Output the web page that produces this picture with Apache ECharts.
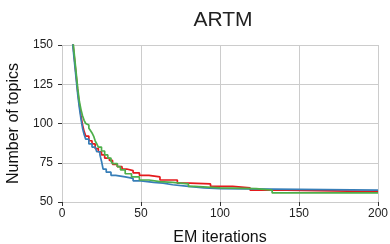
<!DOCTYPE html>
<html><head><meta charset="utf-8">
<script src="https://cdn.jsdelivr.net/npm/echarts@6/dist/echarts.min.js"></script>
<style>html,body{margin:0;padding:0;background:#fff}#c{width:390px;height:244px}</style>
</head><body><div id="c"></div>
<script>
const xTicks = [0, 50, 100, 150, 200];
const yTicks = [50, 75, 100, 125, 150];
const redIter = [0,2,4,6,7,8,9,10,11,12,13,14,15,17,19,21,23,25,27,30,32,35,38,41,45,49,55,62,68,73,81,94,108,119,142,200];
const redTopics = [300,230,192,162,150,140,130,120,112,105,99,95,92,89,87,84,82,80,78,76.5,74,72.5,71,70,68.5,67,66,64,64,62,61.5,60,59,57.6,56.6,56.6];
const blueIter = [0,2,4,6,7,8,9,10,11,12,13,14,15,17,19,21,22,24,25,26,28,31,34,40,45,50,58,64,70,80,90,100,200];
const blueTopics = [300,230,190,160,148,138,128,118,110,103,97,93,90,87,85,84,82,80,76,71,69,67,66,65,63.5,62.5,62,61,60,59,58.5,57.6,57.6];
const greenIter = [0,2,4,6,7,8,9,10,11,12,13,14,15,16,17,18,19,20,21,22,23,25,27,29,31,32,35,37,40,44,49,55,62,70,75,80,84,100,123,133,200];
const greenTopics = [300,235,195,165,152,142,132,122,114,109,105,102,100,99,97,95.5,94,92,89,87,85,82.5,80,78,76,74.5,72.5,70.5,68,66,64,63,62.5,62,61.5,60,59,58.5,57.6,55.8,55.8];

const zip = (a, b) => a.map((v, i) => [v, b[i]]);
const font = 'Liberation Sans';
const chart = echarts.init(document.getElementById('c'));
const mk = (name, color, it, tp) => ({
  name, type: 'line', step: 'end', showSymbol: false, clip: true,
  data: zip(it, tp), lineStyle: { color, width: 1.7 }, itemStyle: { color }
});
chart.setOption({
  animation: false,
  title: { text: 'ARTM', left: 218, top: 5, textAlign: 'center',
    textStyle: { fontFamily: font, fontSize: 21, fontWeight: 'normal', color: '#222' } },
  grid: { left: 62, right: 12, top: 45, bottom: 42, containLabel: false, outerBoundsMode: 'none' },
  xAxis: {
    type: 'value', min: xTicks[0], max: xTicks[xTicks.length - 1], interval: 50,
    name: 'EM iterations', nameLocation: 'middle', nameGap: 28,
    nameTextStyle: { fontFamily: font, fontSize: 16, color: '#111' },
    axisLine: { show: false },
    axisTick: { show: true, length: 4, lineStyle: { color: '#333' } },
    axisLabel: { fontFamily: font, fontSize: 12, color: '#222', margin: 6 },
    splitLine: { show: true, lineStyle: { color: '#cccccc', width: 1 } }
  },
  yAxis: {
    type: 'value', min: yTicks[0], max: yTicks[yTicks.length - 1], interval: 25,
    name: 'Number of topics', nameLocation: 'middle', nameGap: 38, nameRotate: 90,
    nameTextStyle: { fontFamily: font, fontSize: 16, color: '#111' },
    axisLine: { show: false },
    axisTick: { show: true, length: 4, lineStyle: { color: '#333' } },
    axisLabel: { fontFamily: font, fontSize: 12, color: '#222', margin: 9 },
    splitLine: { show: true, lineStyle: { color: '#cccccc', width: 1 } }
  },
  series: [
    mk('red', '#e41a1c', redIter, redTopics),
    mk('blue', '#377eb8', blueIter, blueTopics),
    mk('green', '#4daf4a', greenIter, greenTopics)
  ]
});
</script></body></html>
